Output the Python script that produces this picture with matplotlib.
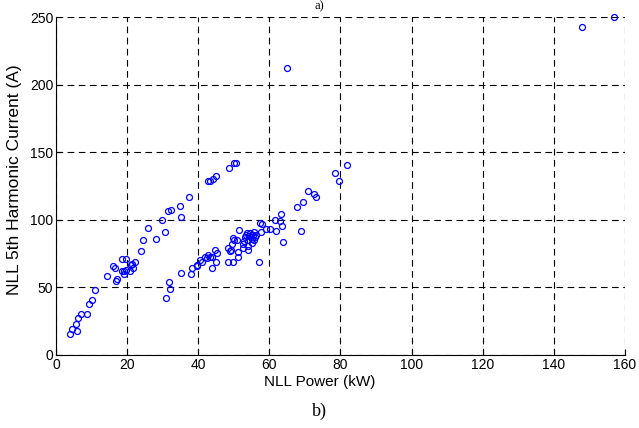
import matplotlib
matplotlib.use('Agg')
import matplotlib.pyplot as plt

# NLL power (kW) vs 5th harmonic current (A)
upper_x = [3.9, 4.5, 6.0, 5.7, 6.3, 6.9, 8.7, 9.3, 10.2, 11.1, 14.4, 16.1, 16.7, 16.8, 17.2,
           18.6, 19.8, 18.6, 19.1, 19.0, 19.8, 21.0, 21.5, 21.7, 22.3, 20.9, 24.0, 24.4, 25.8,
           28.0, 29.7, 30.6, 31.5, 32.3, 35.2, 34.9, 37.4, 42.8, 43.3, 44.2, 45.0, 48.6, 50.1, 50.6]
upper_y = [15.5, 19, 17.8, 23, 27.6, 30.6, 30.6, 37.7, 40.9, 47.8, 58.7, 66, 64, 55, 56,
           71, 71.2, 62.4, 62, 59.7, 62.9, 66.8, 67.5, 64.6, 69, 62.1, 77.1, 84.8, 93.9,
           85.8, 99.9, 91.2, 106.5, 107.2, 102.3, 110.2, 117.1, 128.7, 128.9, 130.2, 132.4, 138.5, 142, 142.2]

lower_x = [30.9, 32.1, 31.9, 35.2, 37.9, 38.2, 39.6, 39.7, 40.5, 41.0, 41.9, 42.4, 42.8, 43.3,
           43.8, 44.0, 44.7, 45.2, 45.0, 48.5, 49.2, 48.5, 49.8, 49.8, 50.8, 51.3, 51.1, 52.7,
           53.9, 51.6, 49.0, 49.5, 50.0,
           52.5, 53.0, 53.2, 53.5, 54.0, 54.0, 54.3, 54.6, 55.0, 55.0, 55.3, 55.6, 55.8, 56.0,
           56.3, 53.8, 54.8,
           57.4, 58.0, 59.1, 60.2, 57.6, 57.2, 61.6, 63.0, 63.3, 63.6, 61.8, 63.9, 67.8, 68.8,
           69.5, 70.8, 72.6, 73.0, 78.6, 79.6, 81.7]
lower_y = [41.9, 48.6, 53.8, 60.4, 59.9, 64.1, 65.8, 66.8, 70.3, 68.8, 72.7, 71.5, 74, 72.7,
           72.7, 64.1, 77.7, 75.2, 69, 79.4, 77.9, 69, 68.8, 86.3, 84.8, 76.4, 72.7, 79.4,
           77.7, 92.5, 77, 82, 85,
           82, 84, 87, 89, 81, 85, 88, 90, 83, 86, 89, 91, 85.3, 87,
           89, 90.5, 87.5,
           97.4, 96.9, 93.2, 93.4, 91, 68.6, 99.9, 99.3, 104.5, 95.2, 91.7, 83.6, 109.8, 91.9,
           113.4, 121.5, 119.1, 116.9, 134.9, 128.4, 140.3]

outlier_x = [64.9, 147.8, 156.8]
outlier_y = [212, 243, 250]

xs = upper_x + lower_x + outlier_x
ys = upper_y + lower_y + outlier_y

plt.rcParams['font.family'] = ['Liberation Sans', 'DejaVu Sans']

fig = plt.figure(figsize=(6.39, 4.28), dpi=100)
ax = fig.add_axes([0.0876, 0.1706, 0.8904, 0.7894])

ax.plot(xs, ys, 'o', mfc='none', mec=(0, 0, 1), ms=4.3, mew=0.9, clip_on=False, zorder=3)

ax.set_xlim(0, 160)
ax.set_ylim(0, 250)
ax.set_xticks(range(0, 161, 20))
ax.set_yticks(range(0, 251, 50))
ax.grid(True, color='k', linestyle=(0, (6, 4)), linewidth=0.8)
ax.set_axisbelow(True)

for s in ['top', 'right']:
    ax.spines[s].set_visible(False)
for s in ['left', 'bottom']:
    ax.spines[s].set_linewidth(0.8)

ax.tick_params(direction='in', length=4, width=0.8, labelsize=10, pad=2)
ax.set_xlabel('NLL Power (kW)', fontsize=11)
ax.xaxis.set_label_coords(0.464, -0.058, transform=ax.transAxes)
ax.xaxis.label.set_va('top')
ax.set_ylabel('NLL 5th Harmonic Current (A)', fontsize=12.5)
ax.yaxis.set_label_coords(-0.06, 0.52, transform=ax.transAxes)

fig.text(0.5, 0.04, 'b)', ha='center', va='center', fontsize=13, family=['Liberation Serif'])
fig.text(0.5, 1.0, 'a)', ha='center', va='top', fontsize=9, family=['Liberation Serif'])

fig.savefig('out.png', dpi=100)
